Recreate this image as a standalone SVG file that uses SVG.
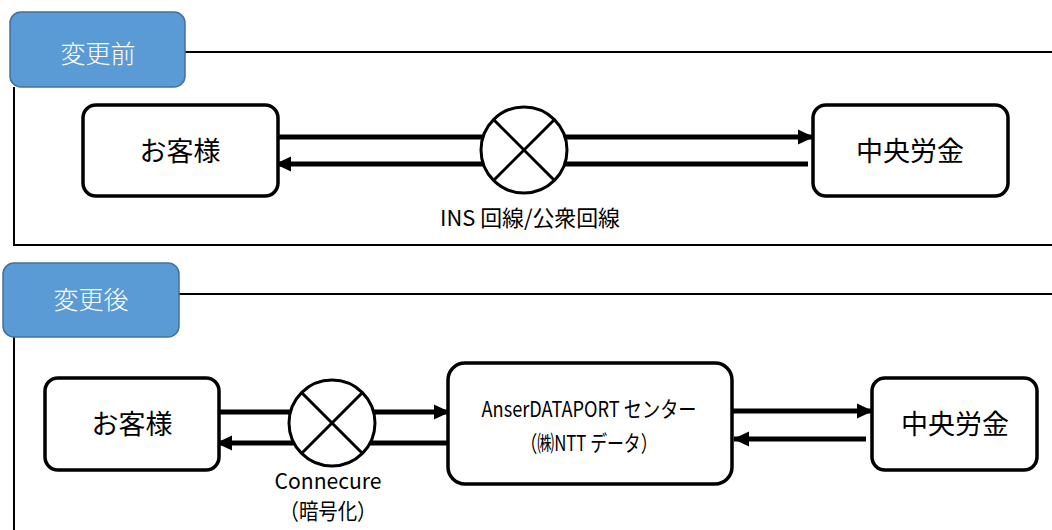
<svg xmlns="http://www.w3.org/2000/svg" width="1052" height="530" viewBox="0 0 1052 530">
<style>
.frame{fill:none;stroke:#000;stroke-width:2}
.tab{fill:#5B9BD5;stroke:#41719C;stroke-width:1.5}
.tabt{fill:#fff;font-family:"Noto Sans CJK JP","Noto Sans",sans-serif;font-size:25px;font-weight:300;text-anchor:middle}
.node{fill:#fff;stroke:#000;stroke-width:3.5}
.nt{fill:#000;font-family:"Noto Sans CJK JP","Noto Sans",sans-serif;font-size:27px;text-anchor:middle}
.lt{fill:#000;font-family:"Noto Sans CJK JP","Noto Sans",sans-serif;font-size:22px;text-anchor:middle}
.ar{stroke:#000;stroke-width:5;fill:none}
.xc{fill:#fff;stroke:#000;stroke-width:3}
.xl{stroke:#000;stroke-width:3}
</style>
<defs>
<marker id="ah" markerUnits="userSpaceOnUse" markerWidth="16" markerHeight="16" viewBox="0 0 16 16" refX="15" refY="8" orient="auto">
<path d="M0,0.5 L16,8 L0,15.5 Z" fill="#000"/>
</marker>
</defs>
<rect width="1052" height="530" fill="#fff"/>
<g id="section-before">
<path class="frame" d="M185,52 H1052 M14,87 V245 H1052"/>
<g id="tab-before"><rect class="tab" x="10" y="12" width="175" height="75" rx="11"/><text class="tabt" x="98" y="63">変更前</text></g>
</g>
<g id="section-after">
<path class="frame" d="M179,294 H1052 M14,337 V530"/>
<g id="tab-after"><rect class="tab" x="3" y="263" width="176" height="74" rx="11"/><text class="tabt" x="91" y="309">変更後</text></g>
</g>
<g id="connectors">
<line class="ar" x1="278" y1="137" x2="813" y2="137" marker-end="url(#ah)"/>
<line class="ar" x1="808" y1="164" x2="276" y2="164" marker-end="url(#ah)"/>
<line class="ar" x1="219" y1="412" x2="449" y2="412" marker-end="url(#ah)"/>
<line class="ar" x1="449" y1="443" x2="217" y2="443" marker-end="url(#ah)"/>
<line class="ar" x1="732" y1="411" x2="872" y2="411" marker-end="url(#ah)"/>
<line class="ar" x1="866" y1="439" x2="734" y2="439" marker-end="url(#ah)"/>
</g>
<g id="x-ins">
<circle class="xc" cx="524" cy="150" r="43"/>
<line class="xl" x1="494" y1="120" x2="554" y2="180"/><line class="xl" x1="554" y1="120" x2="494" y2="180"/>
<text class="lt" x="530" y="226" textLength="180" lengthAdjust="spacingAndGlyphs">INS 回線/公衆回線</text>
</g>
<g id="x-connecure">
<circle class="xc" cx="332" cy="423" r="43"/>
<line class="xl" x1="302" y1="393" x2="362" y2="453"/><line class="xl" x1="362" y1="393" x2="302" y2="453"/>
<text class="lt" x="328" y="489" textLength="107" lengthAdjust="spacingAndGlyphs">Connecure</text>
<text class="lt" x="328" y="519" textLength="97" lengthAdjust="spacingAndGlyphs">（暗号化）</text>
</g>
<g id="customer-before"><rect class="node" x="83" y="105" width="195" height="91" rx="13"/><text class="nt" x="180" y="161">お客様</text></g>
<g id="rokin-before"><rect class="node" x="813" y="105" width="195" height="91" rx="13"/><text class="nt" x="910" y="161">中央労金</text></g>
<g id="customer-after"><rect class="node" x="45" y="378" width="174" height="92" rx="13"/><text class="nt" x="132" y="434">お客様</text></g>
<g id="anser"><rect class="node" x="448" y="363" width="284" height="121" rx="17"/>
<text class="lt" x="589" y="417" textLength="215" lengthAdjust="spacingAndGlyphs">AnserDATAPORT センター</text>
<text class="lt" x="589" y="451" textLength="137" lengthAdjust="spacingAndGlyphs">（㈱NTT データ）</text></g>
<g id="rokin-after"><rect class="node" x="872" y="378" width="165" height="92" rx="13"/><text class="nt" x="955" y="434">中央労金</text></g>
</svg>
